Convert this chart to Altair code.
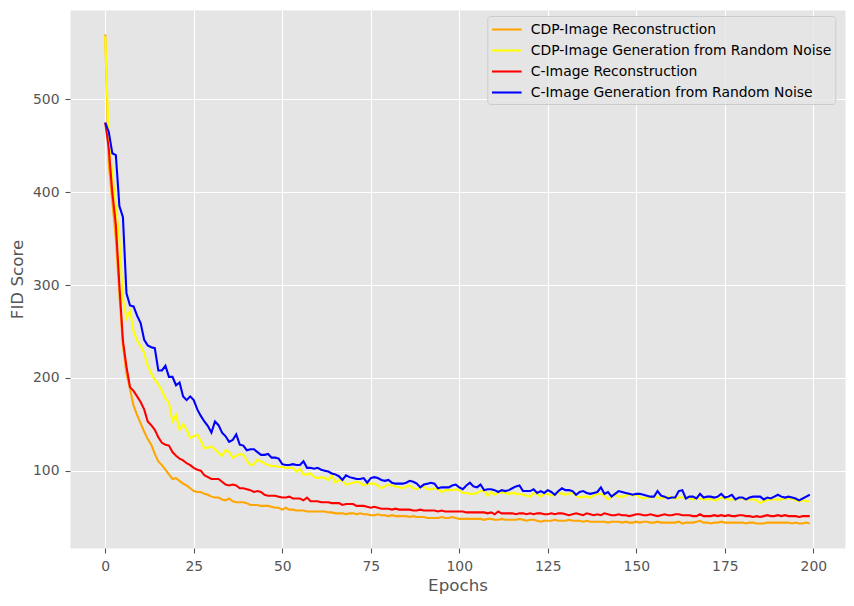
import altair as alt
import pandas as pd

epochs = list(range(200))

series_names = [
    "CDP-Image Reconstruction",
    "CDP-Image Generation from Random Noise",
    "C-Image Reconstruction",
    "C-Image Generation from Random Noise",
]
series_colors = ["#FFA500", "#FFFF00", "#FF0000", "#0000FF"]

cdp_recon = [
    570, 430, 390, 350, 290, 235, 205, 188, 170, 160,
    151, 142, 134, 128, 118, 110, 106, 101, 96, 91,
    92, 89, 86, 84, 81, 78, 77, 77, 75, 74,
    72, 71, 71, 69, 68, 70, 67, 66, 66, 66,
    65, 63, 63, 63, 62, 62, 62, 61, 60, 60,
    58, 60, 58, 58, 57, 57, 57, 56, 56, 56,
    56, 56, 56, 55, 55, 54, 54, 54, 53, 54,
    54, 53, 54, 53, 53, 52, 52, 53, 52, 52,
    51, 52, 51, 51, 51, 51, 50, 51, 50, 50,
    50, 49, 49, 49, 49, 50, 49, 49, 50, 49,
    48, 48, 48, 48, 48, 48, 48, 47, 48, 48,
    47, 47, 48, 47, 47, 47, 47, 48, 47, 46,
    47, 47, 46, 45, 46, 46, 46, 47, 46, 46,
    46, 47, 46, 46, 46, 45, 46, 45, 45, 45,
    45, 45, 44, 45, 45, 45, 44, 45, 44, 44,
    45, 44, 45, 45, 44, 44, 45, 44, 44, 44,
    44, 44, 45, 43, 44, 44, 44, 45, 46, 44,
    44, 43, 44, 44, 45, 44, 44, 44, 44, 44,
    44, 43, 44, 44, 43, 43, 43, 44, 44, 44,
    44, 44, 44, 44, 43, 44, 43, 43, 44, 43,
]

cdp_gen = [
    568, 455, 420, 385, 350, 285, 264, 272, 250, 240,
    234, 227, 213, 205, 198, 193, 186, 178, 173, 153,
    160, 144, 150, 144, 135, 137, 139, 132, 124, 125,
    126, 123, 119, 116, 122, 120, 114, 116, 118, 117,
    111, 106, 107, 112, 110, 108, 106, 105, 105, 104,
    104, 103, 103, 103, 99, 102, 96, 96, 97, 93,
    92, 93, 92, 90, 95, 87, 90, 89, 85, 86,
    87, 88, 87, 84, 86, 86, 86, 84, 81, 83,
    85, 84, 83, 82, 81, 83, 84, 81, 80, 82,
    83, 80, 80, 81, 80, 77, 79, 79, 79, 80,
    79, 76, 76, 75, 75, 76, 78, 79, 73, 77,
    74, 76, 77, 76, 75, 76, 75, 75, 74, 73,
    72, 76, 75, 72, 75, 75, 73, 74, 76, 75,
    74, 75, 76, 73, 71, 72, 72, 71, 73, 75,
    75, 73, 69, 72, 74, 72, 72, 73, 75, 73,
    74, 71, 70, 71, 71, 72, 71, 70, 71, 72,
    71, 70, 71, 71, 71, 70, 69, 70, 70, 69,
    69, 70, 68, 69, 71, 70, 69, 69, 69, 70,
    70, 69, 69, 69, 68, 65, 67, 68, 69, 69,
    69, 69, 70, 70, 70, 68, 67, 68, 67, 67,
]

c_recon = [
    475, 447, 400, 365, 300, 240, 212, 190, 186, 180,
    174, 166, 153, 149, 144, 136, 130, 128, 127, 120,
    116, 113, 111, 108, 106, 103, 101, 100, 95, 93,
    91, 91, 91, 88, 85, 84, 85, 84, 81, 81,
    80, 79, 77, 78, 77, 74, 73, 73, 73, 72,
    71, 71, 72, 70, 70, 70, 68, 71, 67, 67,
    67, 66, 66, 66, 65, 65, 65, 63, 64, 64,
    64, 62, 62, 62, 61, 60, 61, 60, 59, 59,
    59, 58, 59, 58, 58, 58, 58, 57, 57, 58,
    57, 57, 57, 57, 56, 57, 56, 56, 56, 56,
    56, 56, 55, 55, 55, 55, 55, 55, 54, 55,
    53, 56, 54, 54, 54, 54, 53, 54, 54, 53,
    54, 53, 54, 54, 53, 53, 54, 53, 54, 54,
    53, 52, 53, 54, 53, 52, 54, 53, 52, 53,
    52, 54, 53, 52, 52, 53, 52, 52, 51, 52,
    53, 53, 52, 52, 53, 52, 51, 52, 53, 52,
    52, 53, 53, 52, 52, 52, 51, 51, 53, 51,
    51, 51, 52, 51, 52, 51, 52, 51, 51, 52,
    52, 51, 51, 50, 51, 50, 51, 52, 51, 51,
    52, 51, 52, 51, 51, 51, 50, 51, 51, 51,
]

c_gen = [
    475, 465, 442, 440, 385, 373, 291, 278, 277, 267,
    259, 241, 235, 233, 232, 208, 208, 213, 201, 201,
    192, 195, 180, 176, 180, 176, 166, 159, 153, 148,
    141, 153, 149, 141, 137, 131, 133, 139, 128, 127,
    122, 123, 123, 120, 117, 117, 118, 114, 114, 113,
    107, 106, 106, 107, 106, 106, 110, 103, 103, 102,
    103, 101, 100, 99, 97, 96, 94, 90, 95, 93,
    92, 91, 91, 92, 87, 92, 93, 92, 90, 89,
    90, 87, 86, 86, 86, 87, 89, 88, 86, 82,
    85, 86, 87, 86, 81, 82, 82, 82, 84, 85,
    82, 80, 84, 87, 83, 82, 85, 79, 80, 80,
    79, 77, 79, 78, 79, 81, 83, 84, 78, 78,
    78, 80, 76, 78, 76, 79, 77, 74, 78, 81,
    79, 79, 78, 74, 77, 78, 76, 75, 76, 77,
    82, 75, 77, 72, 75, 78, 77, 76, 75, 74,
    75, 75, 74, 73, 72, 72, 78, 73, 72, 70,
    71, 71, 78, 79, 70, 72, 72, 70, 75, 71,
    72, 72, 71, 72, 75, 71, 72, 74, 69, 71,
    71, 69, 71, 72, 72, 72, 69, 71, 70, 72,
    74, 72, 71, 72, 71, 70, 68, 70, 72, 74,
]

x_ticks = [0, 25, 50, 75, 100, 125, 150, 175, 200]
y_ticks = [100, 200, 300, 400, 500]

all_series = [cdp_recon, cdp_gen, c_recon, c_gen]
rows = []
for name, vals in zip(series_names, all_series):
    for e, v in zip(epochs, vals):
        rows.append({"Epoch": e, "FID": v, "Series": name})
df = pd.DataFrame(rows)

# matplotlib-style 5% margins
xmin, xmax = min(epochs), max(epochs)
xr = xmax - xmin
all_vals = [v for s in all_series for v in s]
ymin, ymax = min(all_vals), max(all_vals)
yr = ymax - ymin
x_domain = [xmin - 0.05 * xr, xmax + 0.05 * xr]
y_domain = [ymin - 0.05 * yr, ymax + 0.05 * yr]

FONT = "DejaVu Sans"

chart = (
    alt.Chart(df)
    .mark_line(strokeWidth=2.08)
    .encode(
        x=alt.X(
            "Epoch:Q",
            scale=alt.Scale(domain=x_domain, nice=False, zero=False),
            axis=alt.Axis(
                values=x_ticks,
                title="Epochs",
                labelPadding=6,
                titleY=37,
                titleBaseline="middle",
            ),
        ),
        y=alt.Y(
            "FID:Q",
            scale=alt.Scale(domain=y_domain, nice=False, zero=False),
            axis=alt.Axis(
                values=y_ticks,
                title="FID Score",
                labelPadding=6,
                titleX=-52.3,
                titleY=269,
                titleBaseline="middle",
            ),
        ),
        color=alt.Color(
            "Series:N",
            scale=alt.Scale(domain=series_names, range=series_colors),
            sort=series_names,
            legend=alt.Legend(
                title=None,
                orient="none",
                legendX=417.3,
                legendY=6,
                symbolType="M-1.1,0H2.6",
                symbolSize=256,
                symbolStrokeWidth=2.08,
                labelOffset=20.5,
                rowPadding=4,
                padding=4,
                fillColor="rgba(229,229,229,0.8)",
                strokeColor="#CCCCCC",
                cornerRadius=3,
                labelFont=FONT,
                labelFontSize=13.9,
                labelColor="#000000",
                labelLimit=0,
            ),
        ),
        order=alt.Order("Epoch:Q"),
    )
    .properties(
        width=775,
        height=538,
        autosize=alt.AutoSizeParams(type="none"),
        padding={"left": 62, "top": 2, "right": 1, "bottom": 50},
        background="white",
    )
    .configure_view(fill="#E5E5E5", stroke="transparent")
    .configure_axis(
        grid=True,
        gridColor="#FFFFFF",
        gridWidth=1.1,
        domain=False,
        ticks=True,
        tickColor="#555555",
        tickSize=5,
        tickWidth=1.1,
        labelColor="#555555",
        labelFont=FONT,
        labelFontSize=13.9,
        labelFlush=False,
        labelOverlap=False,
        titleColor="#555555",
        titleFont=FONT,
        titleFontSize=16.7,
        titleFontWeight="normal",
    )
)

chart.save("out.html", embed_options={"renderer": "svg", "actions": False})
